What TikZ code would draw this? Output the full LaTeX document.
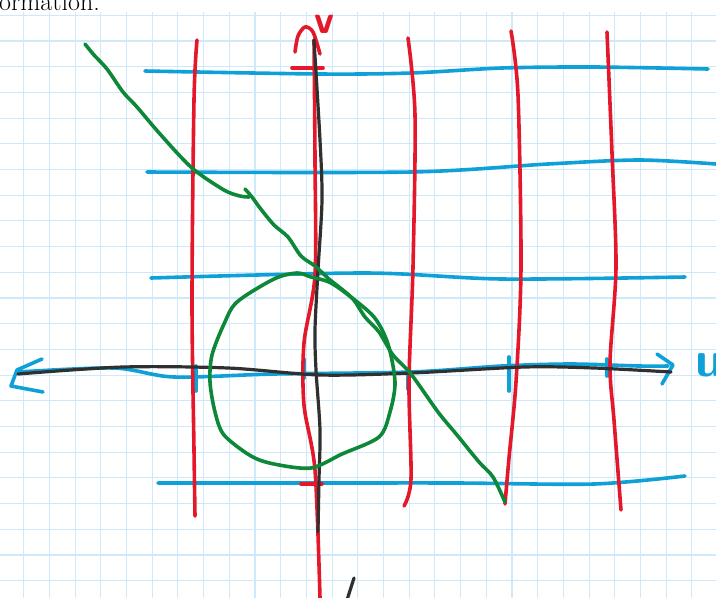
\documentclass[tikz,border=0pt]{standalone}
\usepackage{fontspec}
\usepackage{xcolor}
\usepackage{tikz}
\definecolor{penred}{RGB}{228,24,42}
\definecolor{penblue}{RGB}{14,160,214}
\definecolor{pengreen}{RGB}{12,136,56}
\definecolor{penblack}{RGB}{48,48,48}
\definecolor{paper}{RGB}{206,233,249}
\tikzset{
  pen/.style={line width=3.6pt,line cap=round,line join=round},
  redpen/.style={pen,penred},
  bluepen/.style={pen,penblue},
  greenpen/.style={pen,pengreen},
  blackpen/.style={pen,penblack,line width=3.2pt},
  gridline/.style={paper,line width=1.1pt},
}

\begin{document}
\begin{tikzpicture}[x=1pt,y=-1pt]
      \useasboundingbox (0,0) rectangle (716,598);
      % squared paper
      \foreach \k in {0,...,27} \draw[gridline] (23.7+25.7*\k,12) -- (23.7+25.7*\k,598);
      \foreach \k in {0,...,22} \draw[gridline] (0,15.3+25.7*\k) -- (716,15.3+25.7*\k);
      \node[anchor=base east,inner sep=0pt,font=\fontsize{26}{30}\selectfont] (caption) at (100,10) {information.};
      % blue image of the horizontal lines
      \draw[bluepen] plot[smooth] coordinates {(145,71) (320,74) (411,73) (502,68) (594,67) (708,69)};
      \draw[bluepen] plot[smooth] coordinates {(147,172) (411,172) (548,164) (639,160) (716,164)};
      \draw[bluepen] plot[smooth] coordinates {(151,278) (365,273) (502,279) (685,277)};
      \draw[bluepen] plot[smooth] coordinates {(158,483) (320,483) (457,483) (594,484) (685,476)};
      \draw[bluepen] plot[smooth] coordinates {(18,372) (114,368) (174,377) (274,374) (411,372) (502,366) (571,364) (639,366) (668,366)};
      \draw[bluepen] (42,359) -- (17,370) -- (11,386) -- (43,392);
      \draw[bluepen] (657,354) -- (673,365) -- (662,384);
      \foreach \t/\a/\b in {196/366/391,304/359/378,408/372/389,509/357/391,607/359/376}
        \draw[bluepen] (\t,\a) -- (\t,\b);
      % red image of the vertical lines
      \draw[redpen] plot[smooth] coordinates {(197,40) (194,100) (192,300) (194,450) (195,516)};
      \draw[redpen] plot[smooth] coordinates {(314,40) (315,160) (315,275) (304,343) (304,405) (315,470) (320,598)};
      \draw[redpen] plot[smooth] coordinates {(408,38) (415,115) (413,267) (409,382) (411,479) (404,506)};
      \draw[redpen] plot[smooth] coordinates {(511,31) (518,95) (521,267) (516,382) (509,458) (505,504)};
      \draw[redpen] plot[smooth] coordinates {(607,32) (612,153) (616,267) (610,363) (614,420) (621,510)};
      \draw[redpen] plot[smooth] coordinates {(295,52) (298,36) (305,27) (313,32) (320,54)};
      \draw[redpen] (292,68) -- (323,68);
      \draw[redpen] (301,484) -- (322,484);
      % axes
      \draw[blackpen] plot[smooth] coordinates {(18,374) (123,367) (228,368) (320,375) (411,373) (525,367) (594,368) (671,372)};
      \draw[blackpen] plot[smooth] coordinates {(314,40) (320,140) (322,200) (318,270) (315,330) (316,370) (320,430) (319,480) (318,532)};
      \draw[blackpen] (354,578) -- (347,600);
      % green curves
      \draw[greenpen] plot[smooth] coordinates {(85,44) (94,55) (107,69) (123,92) (137,107) (160,134) (192,168) (224,190) (240,196) (249,197)};
      \draw[greenpen] plot[smooth] coordinates {(245,189) (252,197) (260,208) (274,225) (288,237) (301,256) (315,266) (329,279) (352,298) (365,317) (379,332) (393,355) (411,374) (438,412) (457,435) (479,462) (493,477) (505,502)};
      \draw[greenpen] plot[smooth cycle] coordinates {(297,273) (274,279) (237,302) (224,324) (212,355) (210,382) (215,412) (224,435) (251,456) (274,464) (311,468) (342,454) (379,437) (390,412) (395,382) (388,344) (374,317) (347,294) (329,282) (311,277)};
      % labels
      \node[penred,inner sep=0pt,font=\sffamily\bfseries\fontsize{40}{40}\selectfont] (vlabel) at (324,24) {v};
      \node[penblue,anchor=west,inner sep=0pt,font=\sffamily\bfseries\fontsize{50}{50}\selectfont] (ulabel) at (695,365) {u};
    \end{tikzpicture}
\end{document}
